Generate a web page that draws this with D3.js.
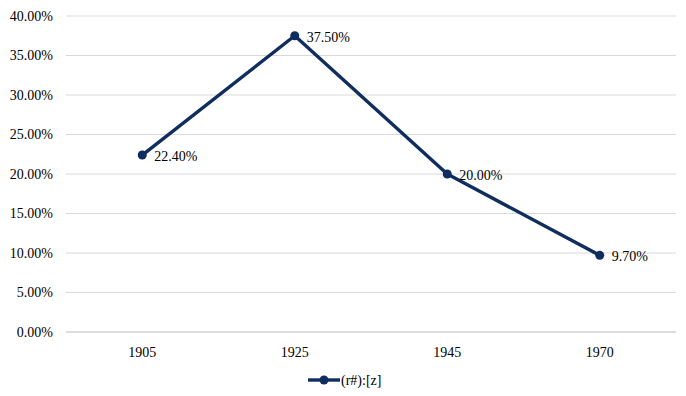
<!DOCTYPE html>
<html><head><meta charset="utf-8">
<script src="https://cdn.jsdelivr.net/npm/d3@7"></script>
<style>body{margin:0;background:#fff}svg{display:block}text{font-family:"Liberation Serif","Times New Roman",serif;}</style>
</head><body>
<svg id="c" width="686" height="396"></svg>
<script>
const categories = ["1905", "1925", "1945", "1970"];
const values = [0.224, 0.375, 0.200, 0.097];
const valueLabels = ["22.40%", "37.50%", "20.00%", "9.70%"];
const yTicks = [0, 0.05, 0.10, 0.15, 0.20, 0.25, 0.30, 0.35, 0.40];
const seriesName = "(r#):[z]";

(function () {
const svg = d3.select("#c");
const mLeft = 66, mRight = 676, mTop = 16, mBottom = 332;
const color = "#0f2d5e";
const fs = 14;
const x = d3.scaleBand().domain(categories).range([mLeft, mRight]);
const y = d3.scaleLinear().domain([0, 0.40]).range([mBottom, mTop]);

svg.append("g").selectAll("line").data(yTicks).join("line")
  .attr("x1", mLeft).attr("x2", mRight)
  .attr("y1", d => y(d)).attr("y2", d => y(d))
  .attr("stroke", d => d === 0 ? "#d0d0d0" : "#d9d9d9").attr("stroke-width", d => d === 0 ? 1.5 : 1);

svg.append("g").selectAll("text").data(yTicks).join("text")
  .attr("x", 53).attr("y", d => y(d)).attr("dy", "0.35em")
  .attr("text-anchor", "end").attr("font-size", fs).attr("fill", "#000")
  .text(d => d3.format(".2%")(d));

svg.append("g").selectAll("text").data(categories).join("text")
  .attr("x", d => x(d) + x.bandwidth() / 2).attr("y", 357)
  .attr("text-anchor", "middle").attr("font-size", fs).attr("fill", "#000")
  .text(d => d);

const pts = categories.map((c, i) => [x(c) + x.bandwidth() / 2, y(values[i])]);
svg.append("path").attr("d", d3.line()(pts)).attr("fill", "none")
  .attr("stroke", color).attr("stroke-width", 3.4).attr("stroke-linejoin", "round");
svg.append("g").selectAll("circle").data(pts).join("circle")
  .attr("cx", d => d[0]).attr("cy", d => d[1]).attr("r", 4.5).attr("fill", color);
svg.append("g").selectAll("text").data(pts).join("text")
  .attr("x", d => d[0] + 12).attr("y", d => d[1] + 1).attr("dy", "0.35em")
  .attr("font-size", fs).attr("fill", "#000")
  .text((d, i) => valueLabels[i]);

const lg = svg.append("g").attr("transform", "translate(308,380)");
lg.append("line").attr("x1", 0).attr("x2", 32).attr("y1", 0).attr("y2", 0)
  .attr("stroke", color).attr("stroke-width", 3.4);
lg.append("circle").attr("cx", 16).attr("cy", 0).attr("r", 4.5).attr("fill", color);
lg.append("text").attr("x", 33).attr("y", 0).attr("dy", "0.35em")
  .attr("font-size", fs).attr("fill", "#000").text(seriesName);
})();
</script>
</body></html>
